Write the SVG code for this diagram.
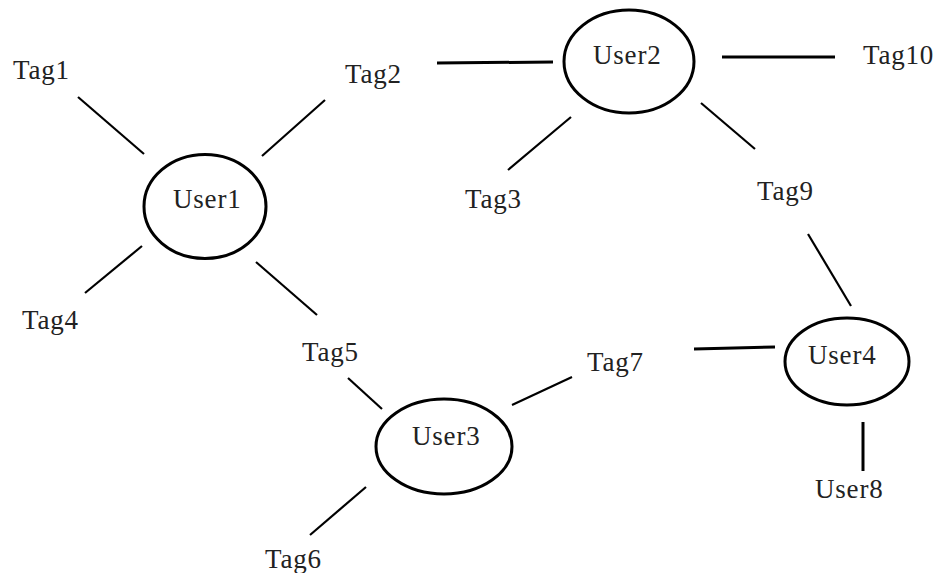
<svg xmlns="http://www.w3.org/2000/svg" width="948" height="573" viewBox="0 0 948 573">
  <style>
    .node ellipse { fill: none; stroke: #000; stroke-width: 3; }
    text { font-family: "Liberation Serif", "Times New Roman", serif; font-size: 27px; letter-spacing: 0.8px; fill: #222; }
    .edges line { stroke: #000; stroke-width: 2.2; stroke-linecap: butt; }
    .edges line.h { stroke-width: 3; }
  </style>
  <rect width="948" height="573" fill="#fff"/>

  <!-- connectors -->
  <g class="edges">
    <line x1="78" y1="97" x2="144" y2="154"/>
    <line x1="262" y1="156" x2="325" y2="100"/>
    <line x1="142" y1="246" x2="85" y2="293"/>
    <line x1="256" y1="262" x2="317" y2="315"/>
    <line class="h" x1="437" y1="63" x2="553" y2="62"/>
    <line class="h" x1="722" y1="57" x2="835" y2="57"/>
    <line x1="571" y1="117" x2="508" y2="170"/>
    <line x1="701" y1="103" x2="755" y2="149"/>
    <line x1="808" y1="234" x2="851" y2="306"/>
    <line x1="348" y1="378" x2="382" y2="409"/>
    <line x1="366" y1="487" x2="310" y2="535"/>
    <line x1="512" y1="405" x2="572" y2="377"/>
    <line class="h" x1="694" y1="349" x2="775" y2="347"/>
    <line class="h" x1="863" y1="422" x2="863" y2="471"/>
  </g>

  <!-- user nodes -->
  <g id="user1" class="node">
    <ellipse cx="205" cy="206.5" rx="61" ry="52"/>
    <text x="173" y="208">User1</text>
  </g>
  <g id="user2" class="node">
    <ellipse cx="629" cy="61.5" rx="65" ry="51.5"/>
    <text x="593" y="64">User2</text>
  </g>
  <g id="user3" class="node">
    <ellipse cx="444" cy="446.5" rx="68" ry="47.5"/>
    <text x="412" y="445">User3</text>
  </g>
  <g id="user4" class="node">
    <ellipse cx="847" cy="361.5" rx="62" ry="43.5"/>
    <text x="808" y="364">User4</text>
  </g>
  <g id="user8" class="node">
    <text x="815" y="498">User8</text>
  </g>

  <!-- tag nodes -->
  <g id="tag1" class="node"><text x="13" y="79">Tag1</text></g>
  <g id="tag2" class="node"><text x="345" y="83">Tag2</text></g>
  <g id="tag3" class="node"><text x="465" y="208">Tag3</text></g>
  <g id="tag4" class="node"><text x="22" y="329">Tag4</text></g>
  <g id="tag5" class="node"><text x="302" y="361">Tag5</text></g>
  <g id="tag6" class="node"><text x="265" y="568">Tag6</text></g>
  <g id="tag7" class="node"><text x="587" y="371">Tag7</text></g>
  <g id="tag9" class="node"><text x="757" y="200">Tag9</text></g>
  <g id="tag10" class="node"><text x="863" y="64">Tag10</text></g>
</svg>
